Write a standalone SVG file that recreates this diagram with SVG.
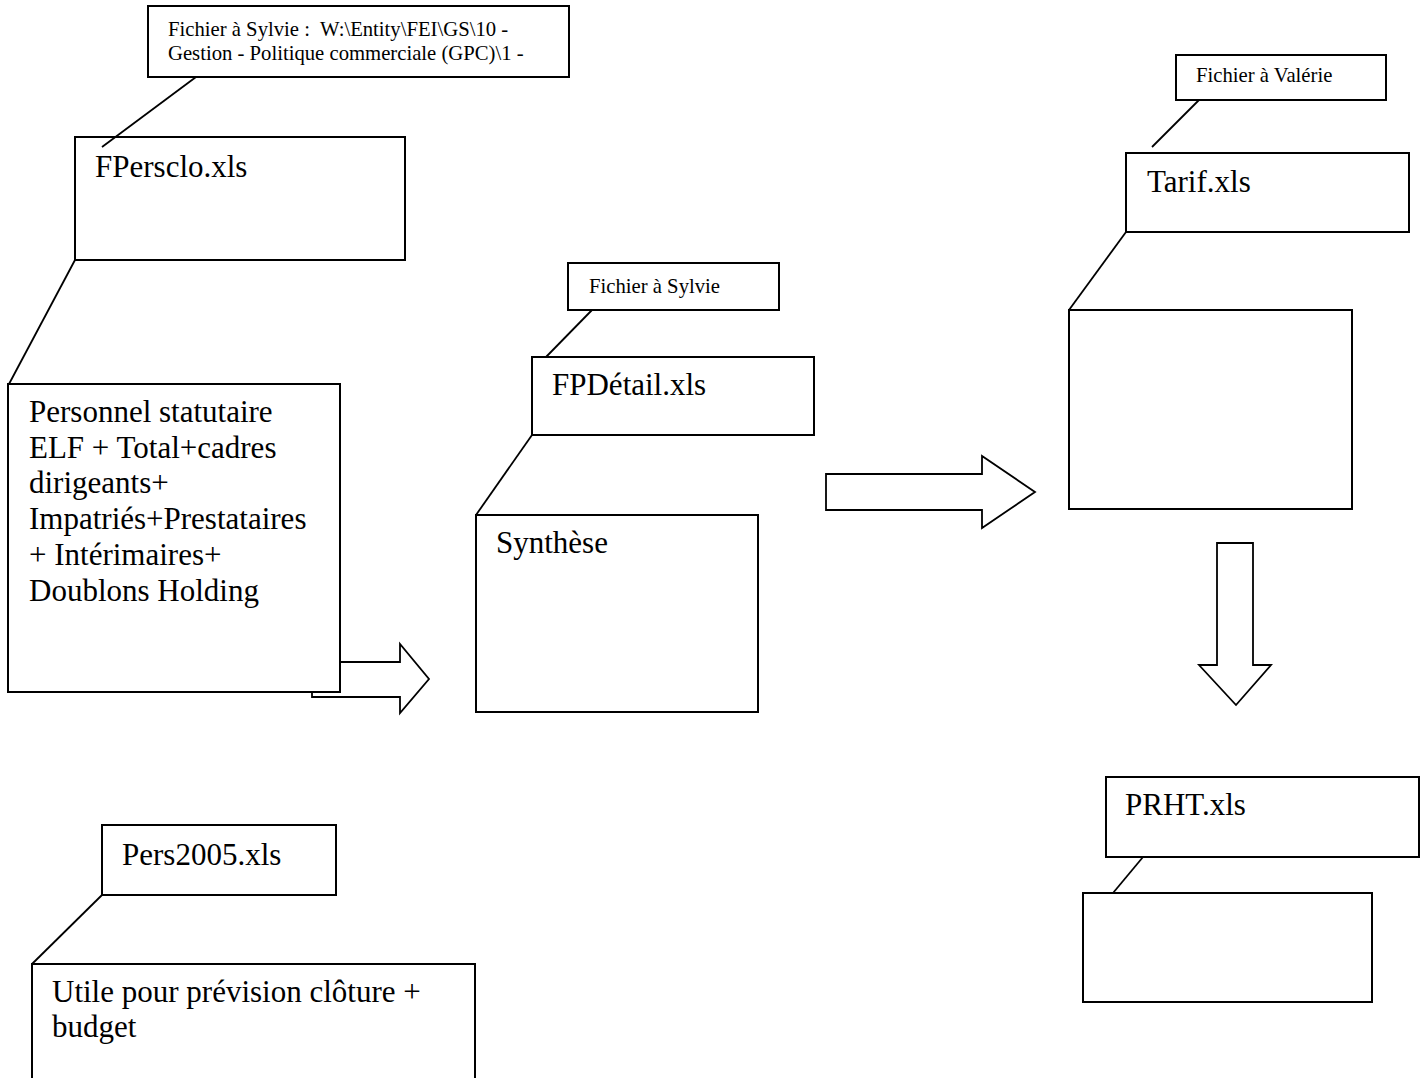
<svg xmlns="http://www.w3.org/2000/svg" width="1425" height="1078" viewBox="0 0 1425 1078">
<style>
.b{fill:#fff;stroke:#000;stroke-width:2}
.c{fill:none;stroke:#000;stroke-width:1.8}
.a{fill:#fff;stroke:#000;stroke-width:1.8;stroke-linejoin:miter}
.L{font-family:"Liberation Serif","Times New Roman",serif;font-size:31px;fill:#000}
.S{font-family:"Liberation Serif","Times New Roman",serif;font-size:20.7px;fill:#000}
</style>
<rect width="1425" height="1078" fill="#fff"/>
<g id="arrow1"><polygon class="a" points="312,662 400,662 400,644 429,679 400,713 400,697 312,697"/></g>
<g id="arrow2"><polygon class="a" points="826,474 982,474 982,456 1035,492 982,528 982,510 826,510"/></g>
<g id="arrow3"><polygon class="a" points="1217,543 1253,543 1253,665 1271,665 1236,705 1199,665 1217,665"/></g>
<g id="note-sylvie-path">
<rect class="b" x="148" y="6" width="421" height="71"/>
<text class="S" x="168" y="36" xml:space="preserve">Fichier à Sylvie :  W:\Entity\FEI\GS\10 -</text>
<text class="S" x="168" y="60">Gestion - Politique commerciale (GPC)\1 -</text>
</g>
<g id="fpersclo">
<rect class="b" x="75" y="137" width="330" height="123"/>
<text class="L" x="95" y="177">FPersclo.xls</text>
</g>
<g id="personnel">
<rect class="b" x="8" y="384" width="332" height="308"/>
<text class="L" x="29" y="422">Personnel statutaire</text>
<text class="L" x="29" y="458">ELF + Total+cadres</text>
<text class="L" x="29" y="493">dirigeants+</text>
<text class="L" x="29" y="529">Impatriés+Prestataires</text>
<text class="L" x="29" y="565">+ Intérimaires+</text>
<text class="L" x="29" y="601">Doublons Holding</text>
</g>
<g id="note-sylvie">
<rect class="b" x="568" y="263" width="211" height="47"/>
<text class="S" x="589" y="293">Fichier à Sylvie</text>
</g>
<g id="fpdetail">
<rect class="b" x="532" y="357" width="282" height="78"/>
<text class="L" x="552" y="395">FPDétail.xls</text>
</g>
<g id="synthese">
<rect class="b" x="476" y="515" width="282" height="197"/>
<text class="L" x="496" y="553">Synthèse</text>
</g>
<g id="note-valerie">
<rect class="b" x="1176" y="55" width="210" height="45"/>
<text class="S" x="1196" y="82">Fichier à Valérie</text>
</g>
<g id="tarif">
<rect class="b" x="1126" y="153" width="283" height="79"/>
<text class="L" x="1147" y="192">Tarif.xls</text>
</g>
<g id="tarif-content">
<rect class="b" x="1069" y="310" width="283" height="199"/>
</g>
<g id="prht">
<rect class="b" x="1106" y="777" width="313" height="80"/>
<text class="L" x="1125" y="815">PRHT.xls</text>
</g>
<g id="prht-content">
<rect class="b" x="1083" y="893" width="289" height="109"/>
</g>
<g id="pers2005">
<rect class="b" x="102" y="825" width="234" height="70"/>
<text class="L" x="122" y="865">Pers2005.xls</text>
</g>
<g id="utile">
<rect class="b" x="32" y="964" width="443" height="130"/>
<text class="L" x="52" y="1002">Utile pour prévision clôture +</text>
<text class="L" x="52" y="1037">budget</text>
</g>
<g id="connectors">
<line class="c" x1="196" y1="77" x2="102" y2="147"/>
<line class="c" x1="75" y1="260" x2="9" y2="384"/>
<line class="c" x1="592" y1="310" x2="546" y2="357"/>
<line class="c" x1="532" y1="435" x2="476" y2="515"/>
<line class="c" x1="1199" y1="100" x2="1152" y2="147"/>
<line class="c" x1="1126" y1="232" x2="1069" y2="310"/>
<line class="c" x1="1143" y1="857" x2="1113" y2="893"/>
<line class="c" x1="102" y1="895" x2="32" y2="964"/>
</g>
</svg>
